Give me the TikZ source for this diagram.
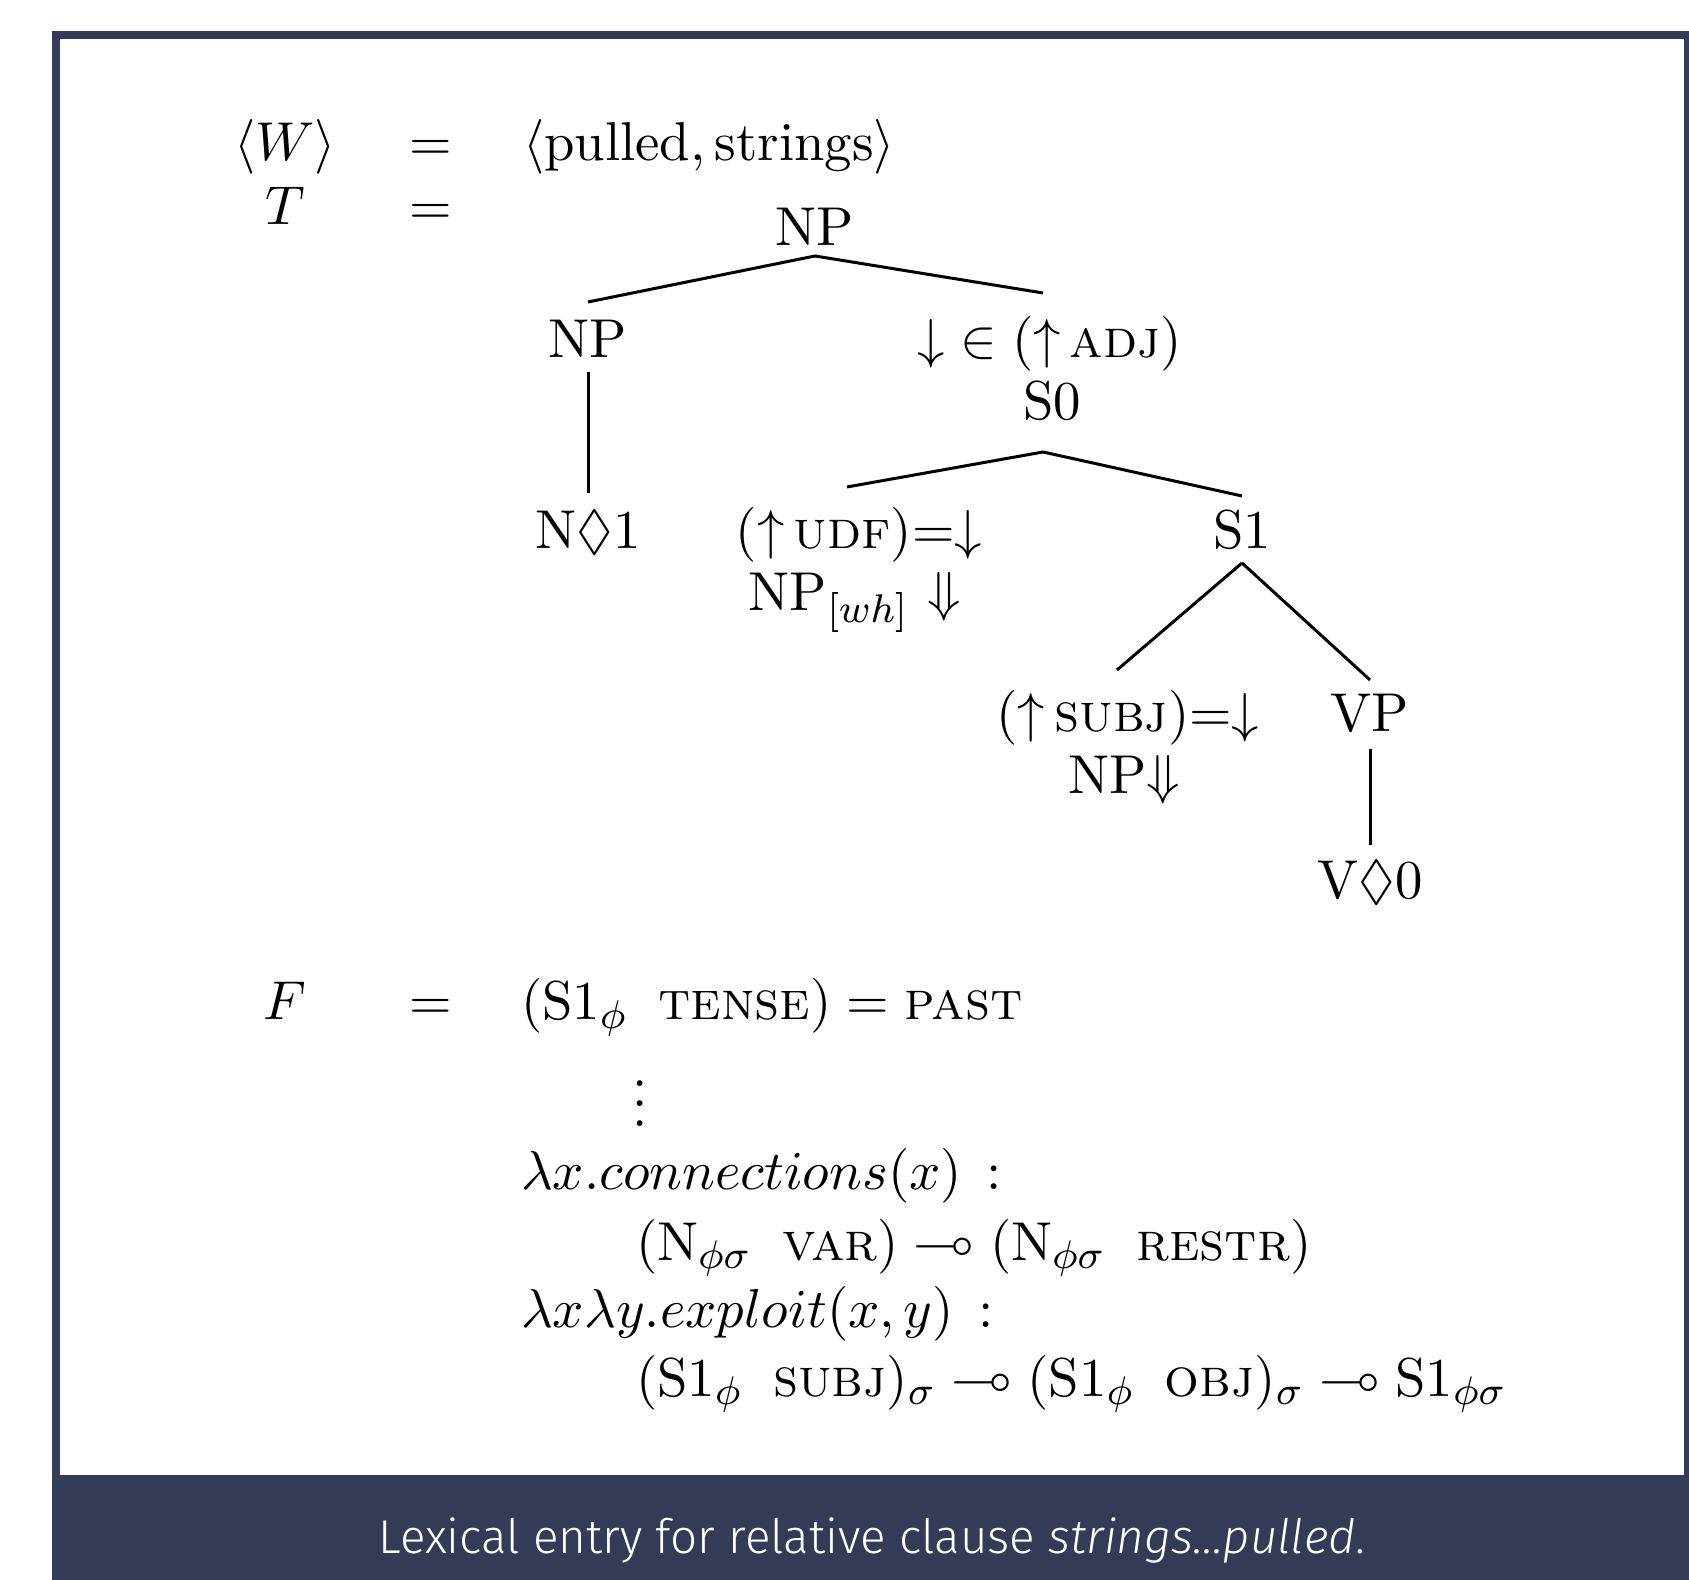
\documentclass[tikz,border=0pt,11pt]{standalone}
\usepackage{amssymb}
\usepackage{fontspec}
\newfontfamily\capfont{Fira Sans Light}[ItalicFont={Fira Sans Light Italic}]
\definecolor{navy}{RGB}{52,59,86}
\newcommand{\fgap}{\mskip 10mu}
\begin{document}
\begin{tikzpicture}[x=0.2pt,y=-0.2pt,font=\normalsize,
  txt/.style={inner sep=0pt,outer sep=0pt,anchor=base},
  lft/.style={txt,anchor=base west},
  branch/.style={line width=0.6pt}]
\useasboundingbox (0,0) rectangle (1689,1580);
\fill[white] (0,0) rectangle (1689,1580);
\fill[navy] (52,31) rectangle (1689,1580);
\fill[white] (60,39) rectangle (1684,1475);
% header rows
\node[txt] (w) at (285,161) {$\langle W\rangle$};
\node[txt] (eq1) at (431,161) {$=$};
\node[lft] (pw) at (523,161) {$\langle\mathrm{pulled},\mathrm{strings}\rangle$};
\node[txt] (t) at (285,225) {$T$};
\node[txt] (eq2) at (431,225) {$=$};
% tree
\node[txt] (root) at (815,246) {NP};
\node[txt] (np1) at (588,358) {NP};
\node[txt] (adj) at (1050,358) {$\mathord{\downarrow}\in(\mathord{\uparrow}\,\textsc{adj})$};
\node[txt] (s0) at (1052,420) {S0};
\node[txt] (n1) at (588,549) {N$\Diamond$1};
\node[txt] (udf) at (859,549) {$(\mathord{\uparrow}\,\textsc{udf}){=}\mathord{\downarrow}$};
\node[txt] (npwh) at (855,611) {$\mathrm{NP}_{[wh]}\ \mathord{\Downarrow}$};
\node[txt] (s1) at (1242,549) {S1};
\node[txt] (subj) at (1128,732) {$(\mathord{\uparrow}\,\textsc{subj}){=}\mathord{\downarrow}$};
\node[txt] (npd) at (1124,794) {$\mathrm{NP}\mathord{\Downarrow}$};
\node[txt] (vp) at (1370,732) {VP};
\node[txt] (v0) at (1370,899) {V$\Diamond$0};
\draw[branch] ([yshift=-2pt]root.base) -- ([yshift=11.2pt]np1.base);
\draw[branch] ([yshift=-2pt]root.base) -- ([xshift=-1.4pt,yshift=13pt]adj.base);
\draw[branch] ([yshift=-2.8pt]np1.base) -- ([yshift=11.2pt]n1.base);
\draw[branch] ([xshift=-1.8pt,yshift=-6.4pt]s0.base) -- ([xshift=-2.4pt,yshift=12.4pt]udf.base);
\draw[branch] ([xshift=-1.8pt,yshift=-6.4pt]s0.base) -- ([yshift=10.6pt]s1.base);
\draw[branch] ([yshift=-2.8pt]s1.base) -- ([xshift=-2.2pt,yshift=12.4pt]subj.base);
\draw[branch] ([yshift=-2.8pt]s1.base) -- ([yshift=10.4pt]vp.base);
\draw[branch] ([yshift=-3.4pt]vp.base) -- ([yshift=10.8pt]v0.base);
% F rows
\node[txt] (f) at (285,1020) {$F$};
\node[txt] (eq3) at (431,1020) {$=$};
\node[lft] (tense) at (521,1020) {$(\mathrm{S1}_{\phi}\fgap\textsc{tense}) = \textsc{past}$};
\node[inner sep=0pt] (dots) at (640,1089) {$\vdots$};
\node[lft] (conn) at (521,1190) {$\lambda x.connections(x)\,:$};
\node[lft] (connt) at (636,1260) {$(\mathrm{N}_{\phi\sigma}\fgap\textsc{var}) \multimap (\mathrm{N}_{\phi\sigma}\fgap\textsc{restr})$};
\node[lft] (expl) at (521,1327) {$\lambda x\lambda y.exploit(x,y)\,:$};
\node[lft] (explt) at (636,1396) {$(\mathrm{S1}_{\phi}\fgap\textsc{subj})_{\sigma} \multimap (\mathrm{S1}_{\phi}\fgap\textsc{obj})_{\sigma} \multimap \mathrm{S1}_{\phi\sigma}$};
% caption
\node[txt,text=white,font=\capfont\fontsize{9.5}{11.5}\selectfont] (cap) at (872,1553) {Lexical entry for relative clause \textit{strings...pulled}.};
\end{tikzpicture}
\end{document}
